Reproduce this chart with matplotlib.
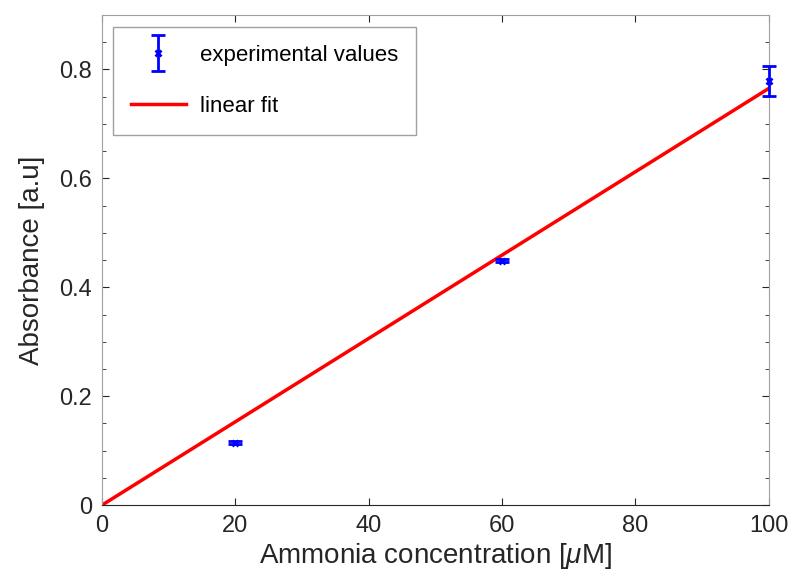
import numpy as np
import matplotlib.pyplot as plt
from matplotlib.ticker import MultipleLocator
from matplotlib.legend_handler import HandlerErrorbar

plt.rcParams['font.family'] = ['Liberation Sans', 'DejaVu Sans']
plt.rcParams['mathtext.fontset'] = 'custom'
plt.rcParams['mathtext.it'] = 'Liberation Sans:italic'
plt.rcParams['mathtext.rm'] = 'Liberation Sans'

# measured absorbance at each ammonia standard
conc = [20, 60, 100]
absorb = [0.115, 0.449, 0.779]
err = [0.003, 0.003, 0.028]

# linear fit through the origin
slope = 0.00765
x_fit = np.array([0, 100])

fig = plt.figure(figsize=(7.9, 5.76), dpi=100)
ax = fig.add_axes([0.129, 0.123, 0.844, 0.851])

eb = ax.errorbar(conc, absorb, yerr=err, fmt='x', color='blue', ecolor='blue',
                 markersize=5, mew=2, elinewidth=2, capsize=5, capthick=2,
                 label='experimental values', zorder=3)
for art in eb.get_children():
    art.set_clip_on(False)
ax.plot(x_fit, slope * x_fit, color='red', lw=2.5, label='linear fit', zorder=2)

ax.set_xlim(0, 100)
ax.set_ylim(0, 0.9)
ax.set_xticks([0, 20, 40, 60, 80, 100])
ax.set_yticks([0, 0.2, 0.4, 0.6, 0.8])
ax.set_yticklabels(['0', '0.2', '0.4', '0.6', '0.8'])
ax.yaxis.set_minor_locator(MultipleLocator(0.05))
ax.tick_params(which='both', direction='in', top=True, right=True,
               labelsize=17, colors='#262626', pad=7)
ax.tick_params(which='major', length=5)
ax.tick_params(which='minor', length=3)

for side in ['top', 'right', 'left']:
    ax.spines[side].set_color('#a0a0a0')
ax.spines['bottom'].set_color('#262626')

ax.set_xlabel(r'Ammonia concentration [$\mu$M]', fontsize=20, color='#262626', labelpad=3)
ax.set_ylabel('Absorbance [a.u]', fontsize=20, color='#262626', labelpad=10)

handles, labels = ax.get_legend_handles_labels()
leg = ax.legend(handles[::-1], labels[::-1], loc='upper left',
                bbox_to_anchor=(0.0165, 0.9755), borderaxespad=0, fontsize=16,
                fancybox=False, framealpha=1, edgecolor='#a0a0a0',
                borderpad=0.8, labelspacing=1.35, handlelength=2.5, handletextpad=0.6,
                handler_map={type(eb): HandlerErrorbar(xerr_size=0.8)})
leg.get_frame().set_linewidth(1)

fig.savefig('out.png', dpi=100)
